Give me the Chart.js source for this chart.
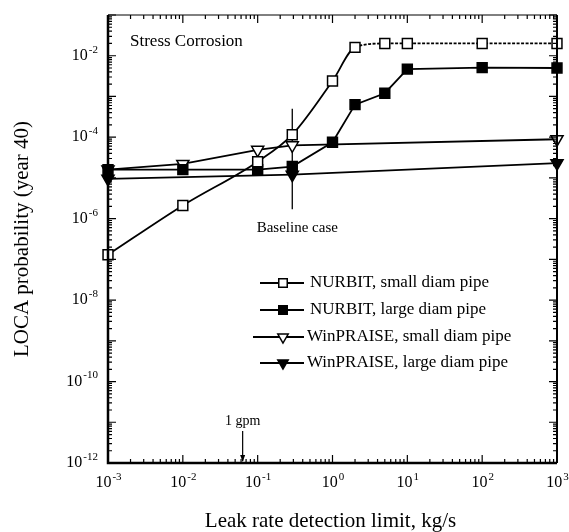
<!DOCTYPE html>
<html>
<head>
<meta charset="utf-8">
<script src="https://cdn.jsdelivr.net/npm/chart.js@4"></script>
<style>
  html, body { margin: 0; padding: 0; background: #fff; }
  #wrap { width: 569px; height: 532px; }
</style>
</head>
<body>
<div id="wrap"><canvas id="chart" width="569" height="532"></canvas></div>
<script>
// leak rate detection limit (kg/s) and LOCA probabilities
const xNurbitSmall = [0.001, 0.01, 0.1, 0.29, 1, 2, 5, 10, 100, 1000];
const yNurbitSmall = [1.3e-7, 2.1e-6, 2.5e-5, 1.15e-4, 2.4e-3, 1.6e-2, 2.0e-2, 2.0e-2, 2.0e-2, 2.0e-2];

const xNurbitLarge = [0.001, 0.01, 0.1, 0.29, 1, 2, 5, 10, 100, 1000];
const yNurbitLarge = [1.6e-5, 1.6e-5, 1.6e-5, 1.9e-5, 7.5e-5, 6.3e-4, 1.2e-3, 4.7e-3, 5.1e-3, 5.0e-3];

const xWinSmall = [0.001, 0.01, 0.1, 0.29, 1000];
const yWinSmall = [1.6e-5, 2.2e-5, 4.9e-5, 6.3e-5, 8.9e-5];

const xWinLarge = [0.001, 0.29, 1000];
const yWinLarge = [9.5e-6, 1.2e-5, 2.3e-5];

// vertical bar marking the baseline case
const xBaseline = [0.29, 0.29];
const yBaseline = [5e-4, 1.7e-6];

const gpmValue = 0.063; // 1 gpm in kg/s

const seriesNames = [
  'NURBIT, small diam pipe',
  'NURBIT, large diam pipe',
  'WinPRAISE, small diam pipe',
  'WinPRAISE, large diam pipe'
];

// tick exponents
const xDecades = [-3, -2, -1, 0, 1, 2, 3];
const yLabelDecades = [-12, -10, -8, -6, -4, -2];

const SERIF = '"Liberation Serif", "Times New Roman", serif';

function pts(xs, ys) {
  return xs.map((x, i) => ({ x: x, y: ys[i] }));
}

const markers = [
  { pointStyle: 'rect', rotation: 0, radius: 7, fill: '#fff' },
  { pointStyle: 'rect', rotation: 0, radius: 7, fill: '#000' },
  { pointStyle: 'triangle', rotation: 180, radius: 7, fill: '#fff' },
  { pointStyle: 'triangle', rotation: 180, radius: 7, fill: '#000' }
];

function seriesDataset(i, data, extra) {
  const m = markers[i];
  return Object.assign({
    label: seriesNames[i],
    data: data,
    borderColor: '#000',
    borderWidth: 1.8,
    pointStyle: m.pointStyle,
    pointRotation: m.rotation,
    pointRadius: m.radius,
    pointBackgroundColor: m.fill,
    pointBorderColor: '#000',
    pointBorderWidth: 1.5,
    clip: false
  }, extra || {});
}

function drawPow(ctx, exp, x, y, align) {
  const base = '10';
  const sup = String(exp);
  ctx.font = '16px ' + SERIF;
  const wb = ctx.measureText(base).width;
  ctx.font = '11px ' + SERIF;
  const ws = ctx.measureText(sup).width;
  let left;
  if (align === 'right') left = x - wb - ws;
  else left = x - (wb + ws) / 2;
  ctx.textAlign = 'left';
  ctx.textBaseline = 'middle';
  ctx.font = '16px ' + SERIF;
  ctx.fillText(base, left, y);
  ctx.font = '11px ' + SERIF;
  ctx.fillText(sup, left + wb + 1, y - 6);
}

const framePlugin = {
  id: 'frame',
  afterDraw(chart) {
    const ctx = chart.ctx;
    const a = chart.chartArea;
    const xs = chart.scales.x;
    const ys = chart.scales.y;
    ctx.save();
    ctx.strokeStyle = '#000';
    ctx.fillStyle = '#000';

    // inward ticks on all four sides
    ctx.lineWidth = 1.2;
    ctx.beginPath();
    for (let d = -3; d <= 3; d++) {
      for (let k = 1; k <= 9; k++) {
        const v = k * Math.pow(10, d);
        if (v > 1000.0001) break;
        const px = xs.getPixelForValue(v);
        const len = k === 1 ? 8 : 4;
        ctx.moveTo(px, a.bottom); ctx.lineTo(px, a.bottom - len);
        ctx.moveTo(px, a.top); ctx.lineTo(px, a.top + len);
      }
    }
    for (let d = -12; d <= -1; d++) {
      for (let k = 1; k <= 9; k++) {
        const v = k * Math.pow(10, d);
        if (v > 0.100001) break;
        const py = ys.getPixelForValue(v);
        const len = k === 1 ? 8 : 4;
        ctx.moveTo(a.left, py); ctx.lineTo(a.left + len, py);
        ctx.moveTo(a.right, py); ctx.lineTo(a.right - len, py);
      }
    }
    ctx.stroke();

    // frame
    ctx.lineWidth = 1;
    ctx.beginPath();
    ctx.moveTo(a.left, a.top); ctx.lineTo(a.right, a.top);
    ctx.stroke();
    ctx.lineWidth = 2.5;
    ctx.beginPath();
    ctx.moveTo(a.left, a.top); ctx.lineTo(a.left, a.bottom); ctx.lineTo(a.right, a.bottom);
    ctx.stroke();
    ctx.lineWidth = 2;
    ctx.beginPath();
    ctx.moveTo(a.right, a.top); ctx.lineTo(a.right, a.bottom);
    ctx.stroke();

    // tick labels
    xDecades.forEach(d => {
      drawPow(ctx, d, xs.getPixelForValue(Math.pow(10, d)), a.bottom + 20, 'center');
    });
    yLabelDecades.forEach(d => {
      drawPow(ctx, d, a.left - 11, ys.getPixelForValue(Math.pow(10, d)), 'right');
    });

    // axis titles
    ctx.font = '21px ' + SERIF;
    ctx.textAlign = 'center';
    ctx.textBaseline = 'middle';
    ctx.fillText('Leak rate detection limit, kg/s', (a.left + a.right) / 2 - 2, a.bottom + 58);
    ctx.save();
    ctx.translate(22, (a.top + a.bottom) / 2);
    ctx.rotate(-Math.PI / 2);
    ctx.fillText('LOCA probability (year 40)', 0, 0);
    ctx.restore();

    // annotations
    ctx.font = '17px ' + SERIF;
    ctx.textAlign = 'left';
    ctx.fillText('Stress Corrosion', a.left + 22, a.top + 27);

    ctx.font = '15px ' + SERIF;
    ctx.textAlign = 'center';
    ctx.fillText('Baseline case', xs.getPixelForValue(xBaseline[0]) + 5, ys.getPixelForValue(yBaseline[1]) + 19);

    const gx = xs.getPixelForValue(gpmValue);
    ctx.font = '14px ' + SERIF;
    ctx.fillText('1 gpm', gx, a.bottom - 42);
    ctx.lineWidth = 1.2;
    ctx.beginPath();
    ctx.moveTo(gx, a.bottom - 32); ctx.lineTo(gx, a.bottom - 2);
    ctx.stroke();
    ctx.beginPath();
    ctx.moveTo(gx - 2.5, a.bottom - 8); ctx.lineTo(gx, a.bottom - 1); ctx.lineTo(gx + 2.5, a.bottom - 8);
    ctx.closePath();
    ctx.fill();

    // legend
    const rowY = [283, 310, 337, 363];
    ctx.font = '17px ' + SERIF;
    ctx.textAlign = 'left';
    seriesNames.forEach((name, i) => {
      const y = rowY[i];
      const x1 = i === 2 ? 253 : 260;
      ctx.lineWidth = 1.8;
      ctx.strokeStyle = '#000';
      ctx.beginPath();
      ctx.moveTo(x1, y); ctx.lineTo(304, y);
      ctx.stroke();
      const m = markers[i];
      ctx.fillStyle = m.fill;
      ctx.lineWidth = 1.5;
      Chart.helpers.drawPoint(ctx, { pointStyle: m.pointStyle, rotation: m.rotation, radius: 6, borderWidth: 1.5 }, 283, y);
      ctx.fillStyle = '#000';
      ctx.fillText(name, i >= 2 ? 307 : 310, y);
    });
    ctx.restore();
  }
};

new Chart(document.getElementById('chart'), {
  type: 'line',
  data: {
    datasets: [
      seriesDataset(0, pts(xNurbitSmall, yNurbitSmall), {
        cubicInterpolationMode: 'monotone',
        segment: {
          borderDash: c => (c.p0.parsed.x >= 2 ? [3, 1.5] : undefined)
        }
      }),
      seriesDataset(1, pts(xNurbitLarge, yNurbitLarge)),
      seriesDataset(2, pts(xWinSmall, yWinSmall)),
      seriesDataset(3, pts(xWinLarge, yWinLarge)),
      {
        label: 'Baseline case',
        data: pts(xBaseline, yBaseline),
        borderColor: '#000',
        borderWidth: 1.3,
        pointRadius: 0,
        clip: false
      }
    ]
  },
  options: {
    responsive: false,
    animation: false,
    events: [],
    layout: { padding: { top: 15, right: 12, left: 0, bottom: 0 } },
    plugins: {
      legend: { display: false },
      tooltip: { enabled: false }
    },
    scales: {
      x: {
        type: 'logarithmic',
        min: 1e-3,
        max: 1e3,
        ticks: { display: false },
        grid: { display: false },
        border: { display: false },
        afterFit(scale) { scale.height = 69; }
      },
      y: {
        type: 'logarithmic',
        min: 1e-12,
        max: 1e-1,
        ticks: { display: false },
        grid: { display: false },
        border: { display: false },
        afterFit(scale) { scale.width = 108; }
      }
    }
  },
  plugins: [framePlugin]
});
</script>
</body>
</html>
